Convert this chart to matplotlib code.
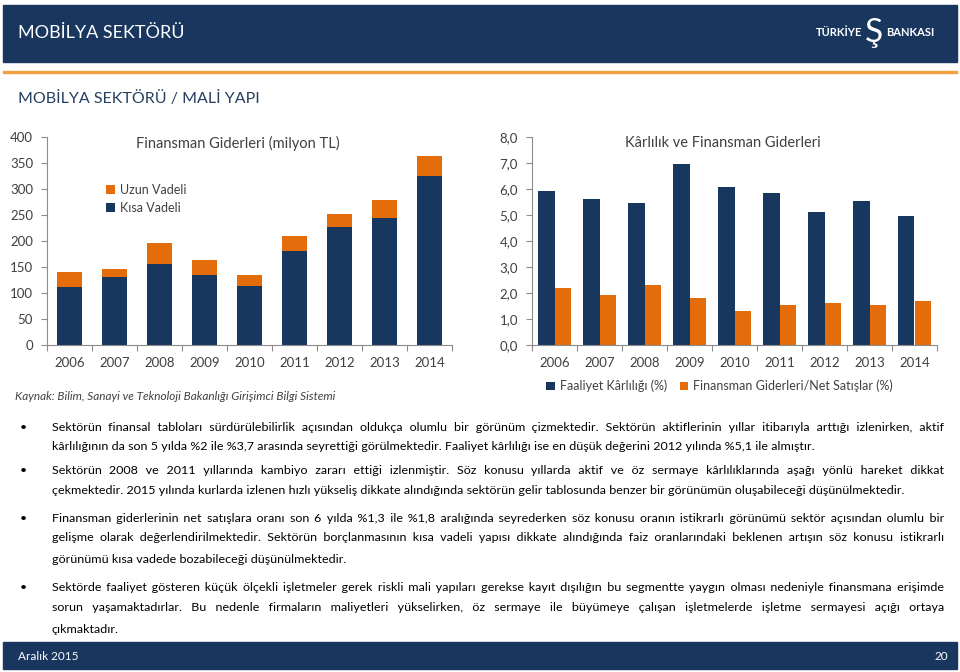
import matplotlib
matplotlib.use('Agg')
import matplotlib.pyplot as plt
from matplotlib.patches import Rectangle
from matplotlib.ticker import FuncFormatter
import numpy as np

plt.rcParams['font.family'] = ['Lato', 'DejaVu Sans']

W, H = 960, 672
NAVY = '#17375E'
ORANGE = '#E46C0A'
HEAD = '#18365E'
GRAY = '#404040'
SPINE = '#8C8C8C'
BODY_FONT = ['Lato', 'DejaVu Sans']
HAIR = '\u200a'

# data
years = ['2006', '2007', '2008', '2009', '2010', '2011', '2012', '2013', '2014']
kisa_vadeli = [112, 131, 155, 134, 113, 181, 227, 245, 325]
uzun_vadeli = [29, 16, 42, 30, 21, 29, 24, 34, 39]
faaliyet_karliligi = [5.93, 5.61, 5.47, 6.95, 6.08, 5.86, 5.12, 5.54, 4.98]
finansman_net_satis = [2.18, 1.92, 2.32, 1.79, 1.29, 1.54, 1.60, 1.54, 1.68]

paragraphs = [
    ["Sektörün finansal tabloları sürdürülebilirlik açısından oldukça olumlu bir görünüm çizmektedir. Sektörün aktiflerinin yıllar itibarıyla arttığı izlenirken, aktif",
     "kârlılığının da son 5 yılda %2 ile %3,7 arasında seyrettiği görülmektedir. Faaliyet kârlılığı ise en düşük değerini 2012 yılında %5,1 ile almıştır."],
    ["Sektörün 2008 ve 2011 yıllarında kambiyo zararı ettiği izlenmiştir. Söz konusu yıllarda aktif ve öz sermaye kârlılıklarında aşağı yönlü hareket dikkat",
     "çekmektedir. 2015 yılında kurlarda izlenen hızlı yükseliş dikkate alındığında sektörün gelir tablosunda benzer bir görünümün oluşabileceği düşünülmektedir."],
    ["Finansman giderlerinin net satışlara oranı son 6 yılda %1,3 ile %1,8 aralığında seyrederken söz konusu oranın istikrarlı görünümü sektör açısından olumlu bir",
     "gelişme olarak değerlendirilmektedir. Sektörün borçlanmasının kısa vadeli yapısı dikkate alındığında faiz oranlarındaki beklenen artışın söz konusu istikrarlı",
     "görünümü kısa vadede bozabileceği düşünülmektedir."],
    ["Sektörde faaliyet gösteren küçük ölçekli işletmeler gerek riskli mali yapıları gerekse kayıt dışılığın bu segmentte yaygın olması nedeniyle finansmana erişimde",
     "sorun yaşamaktadırlar. Bu nedenle firmaların maliyetleri yükselirken, öz sermaye ile büyümeye çalışan işletmelerde işletme sermayesi açığı ortaya",
     "çıkmaktadır."],
]
baselines = [[431, 450], [474, 494], [522, 541, 563], [591, 611, 633]]


def fx(x):
    return x / W


def fy(y):
    return 1 - y / H


fig = plt.figure(figsize=(9.6, 6.72), dpi=100)
renderer = fig.canvas.get_renderer()


def box(x0, y0, x1, y1, color):
    fig.patches.append(Rectangle((fx(x0), fy(y1)), (x1 - x0) / W, (y1 - y0) / H,
                                 transform=fig.transFigure, color=color, zorder=0))


# header / footer
box(3, 5, 957, 62, HEAD)
box(3, 71, 957, 73, '#F0A040')
box(3, 642, 957, 669, HEAD)
fig.text(fx(18), fy(33), 'MOBİLYA SEKTÖRÜ', color='white', fontsize=13, va='center')
fig.text(fx(862), fy(33), 'TÜRKİYE', color='white', fontsize=8, fontweight='bold', ha='right', va='center')
fig.text(fx(874), fy(33), 'Ş', color='white', fontsize=24, ha='center', va='center')
fig.text(fx(886), fy(33), 'BANKASI', color='white', fontsize=8, fontweight='bold', ha='left', va='center')
fig.text(fx(18), fy(99), 'MOBİLYA SEKTÖRÜ / MALİ YAPI', color='#243F60', fontsize=11.5, va='center')
fig.text(fx(18), fy(656), 'Aralık 2015', color='white', fontsize=8.5, va='center')
fig.text(fx(948), fy(656), '20', color='white', fontsize=8.5, ha='right', va='center')


def style(ax):
    for s in ['top', 'right']:
        ax.spines[s].set_visible(False)
    for s in ['left', 'bottom']:
        ax.spines[s].set_color(SPINE)
        ax.spines[s].set_linewidth(0.8)
    ax.set_xlim(-0.5, 8.5)
    ax.set_xticks(np.arange(9))
    ax.set_xticklabels(years)
    ax.set_xticks(np.arange(-0.5, 9, 1), minor=True)
    ax.tick_params(axis='x', which='major', length=0, pad=9, labelsize=9.5, labelcolor=GRAY)
    ax.tick_params(axis='x', which='minor', length=4, width=0.8, color=SPINE)
    ax.tick_params(axis='y', length=4, width=0.8, color=SPINE, pad=6, labelsize=9.5, labelcolor=GRAY)


x = np.arange(len(years))

# left chart: finansman giderleri
ax1 = fig.add_axes([fx(47), fy(345), (452 - 47) / W, (345 - 137) / H])
ax1.bar(x, kisa_vadeli, 0.55, color=NAVY, label='Kısa Vadeli')
ax1.bar(x, uzun_vadeli, 0.55, bottom=kisa_vadeli, color=ORANGE, label='Uzun Vadeli')
ax1.set_ylim(0, 400)
ax1.set_yticks(range(0, 401, 50))
style(ax1)
h, l = ax1.get_legend_handles_labels()
ax1.legend([h[1], h[0]], [l[1], l[0]], loc='upper left', bbox_to_anchor=(fx(106), fy(184)),
           bbox_transform=fig.transFigure, frameon=False, handlelength=0.7, handleheight=0.7,
           handletextpad=0.4, labelspacing=0.45, fontsize=9, labelcolor=GRAY,
           borderpad=0, borderaxespad=0)
fig.text(fx(238), fy(143), 'Finansman Giderleri (milyon TL)', ha='center', va='center',
         fontsize=10.5, color=GRAY)

# right chart: karlilik ve finansman giderleri
ax2 = fig.add_axes([fx(532), fy(345), (937 - 532) / W, (345 - 137) / H])
bw = 0.36
ax2.bar(x - bw / 2, faaliyet_karliligi, bw, color=NAVY, label='Faaliyet Kârlılığı (%)')
ax2.bar(x + bw / 2, finansman_net_satis, bw, color=ORANGE, label='Finansman Giderleri/Net Satışlar (%)')
ax2.set_ylim(0, 8)
ax2.set_yticks(np.arange(0, 8.1, 1))
ax2.yaxis.set_major_formatter(FuncFormatter(lambda v, p: f'{v:.1f}'.replace('.', ',')))
style(ax2)
ax2.legend(loc='center left', bbox_to_anchor=(fx(546), fy(386)), bbox_transform=fig.transFigure,
           ncol=2, frameon=False, handlelength=0.7, handleheight=0.7, handletextpad=0.4,
           columnspacing=1.0, fontsize=9, labelcolor=GRAY, borderpad=0, borderaxespad=0)
fig.text(fx(723), fy(143), 'Kârlılık ve Finansman Giderleri', ha='center', va='center',
         fontsize=10.5, color=GRAY)

fig.text(fx(15), fy(396), 'Kaynak: Bilim, Sanayi ve Teknoloji Bakanlığı Girişimci Bilgi Sistemi',
         style='italic', fontsize=8.5, color=GRAY, va='center')


# body text, justified like the report (pad the gaps with hair spaces)
def measure(s, size):
    t = fig.text(0, 0, s, fontsize=size, family=BODY_FONT)
    w = t.get_window_extent(renderer).width
    t.remove()
    return w


body_size = 10 * 756 / measure(paragraphs[0][1], 10)
X0, X1 = 52, 944
hair_w = (measure('a' + HAIR * 40 + 'a', body_size) - measure('aa', body_size)) / 40


def justify(line):
    words = line.split()
    n_gaps = len(words) - 1
    extra = (X1 - X0) - measure(line, body_size)
    n_hair = max(0, int(round(extra / hair_w)))
    out = words[0]
    for i, w in enumerate(words[1:]):
        k = n_hair * (i + 1) // n_gaps - n_hair * i // n_gaps
        out += ' ' + HAIR * k + w
    return out


for para, ys in zip(paragraphs, baselines):
    fig.text(fx(23), fy(ys[0]), '•', fontsize=body_size, family=BODY_FONT, ha='center', color='black')
    for i, (line, yb) in enumerate(zip(para, ys)):
        s = line if i == len(para) - 1 else justify(line)
        fig.text(fx(X0), fy(yb), s, fontsize=body_size, family=BODY_FONT, color='black')

fig.savefig('out.png', dpi=100)
